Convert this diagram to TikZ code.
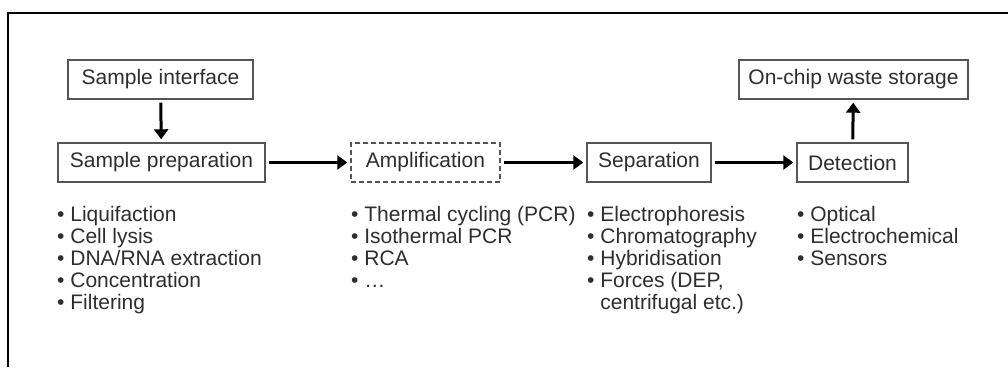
\documentclass[tikz,border=0pt]{standalone}
\usepackage{fontspec}
\setmainfont{Liberation Sans}
\usetikzlibrary{arrows.meta}
\definecolor{boxgray}{RGB}{85,85,85}
\definecolor{txtgray}{RGB}{45,45,50}
\begin{document}
\begin{tikzpicture}[x=1pt, y=1pt,
  box/.style={draw=boxgray, line width=1.4pt, minimum height=39pt, inner sep=0pt,
    text=txtgray, font=\fontsize{21}{22.2}\selectfont},
  item/.style={anchor=base west, inner sep=0pt, text=txtgray,
    font=\fontsize{21}{22.2}\selectfont},
  flow/.style={line width=3pt, -{Triangle[length=10pt, width=14pt]},
    shorten <=3pt, shorten >=3pt}]
\useasboundingbox (0,0) rectangle (1008,-367);
% outer frame
\draw[line width=2pt] (8,-367) -- (8,-13) -- (1008,-13);
% boxes
\node[box, minimum width=185pt] (iface) at (160.5,-79.5) {Sample interface};
\node[box, minimum width=207pt] (prep) at (161.5,-162.5) {Sample preparation};
\node[box, minimum width=149pt, dash pattern=on 5pt off 3pt] (amp) at (425.5,-162.5) {Amplification};
\node[box, minimum width=124pt] (sep) at (649,-162.5) {Separation};
\node[box, minimum width=111pt] (det) at (852.5,-162.5) {Detection};
\node[box, minimum width=229pt] (waste) at (853.5,-79.5) {On-chip waste storage};
% arrows
\draw[flow] (iface) -- (prep);
\draw[flow] (prep) -- (amp);
\draw[flow] (amp) -- (sep);
\draw[flow] (sep) -- (det);
\draw[flow] (det) -- (waste);
% lists
\foreach \t [count=\i] in {Liquifaction, Cell lysis, DNA/RNA extraction, Concentration, Filtering}
  \node[item] (prepitem\i) at (57,-221-22.2*\i+22.2) {\textbullet\ \t};
\foreach \t [count=\i] in {Thermal cycling (PCR), Isothermal PCR, RCA, \dots}
  \node[item] (ampitem\i) at (351,-221-22.2*\i+22.2) {\textbullet\ \t};
\foreach \t [count=\i] in {Electrophoresis, Chromatography, Hybridisation, {Forces (DEP,}}
  \node[item] (sepitem\i) at (587,-221-22.2*\i+22.2) {\textbullet\ \t};
\node[item] (sepitem5) at (587,-309.8) {\phantom{\textbullet\ }centrifugal etc.)};
\foreach \t [count=\i] in {Optical, Electrochemical, Sensors}
  \node[item] (detitem\i) at (797,-221-22.2*\i+22.2) {\textbullet\ \t};
\end{tikzpicture}
\end{document}
